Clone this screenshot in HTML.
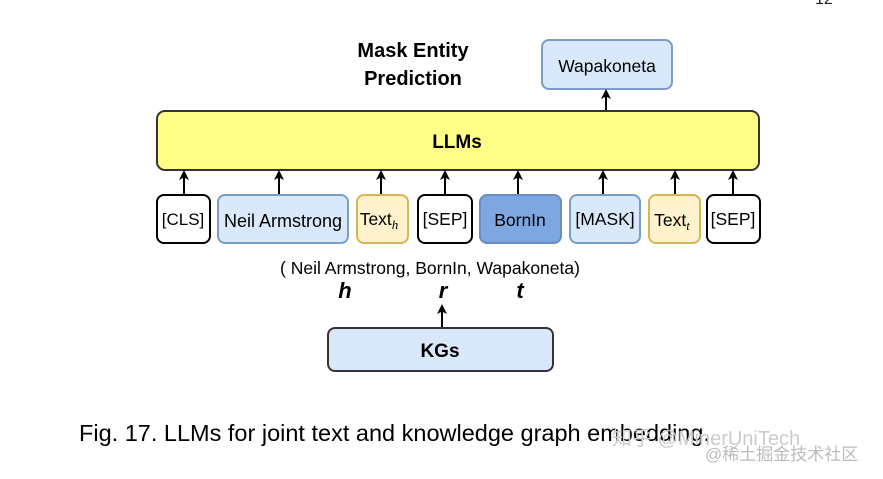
<!DOCTYPE html>
<html><head><meta charset="utf-8"><style>
html,body{margin:0;padding:0;background:#fff;}
svg{display:block;}
text{font-family:"Liberation Sans",Arial,sans-serif;}
</style></head><body>
<svg width="883" height="479" viewBox="0 0 883 479" xmlns="http://www.w3.org/2000/svg">
<defs>
<marker id="a" markerWidth="10" markerHeight="10" refX="5" refY="5" orient="auto" markerUnits="userSpaceOnUse">
<path d="M0,0 L10,5 L0,10 L2.5,5 Z" fill="#000"/>
</marker>
</defs>
<text x="815" y="4" font-size="16" fill="#222">12</text>
<text x="413" y="57" font-size="20" font-weight="bold" text-anchor="middle">Mask Entity</text>
<text x="413" y="85" font-size="20" font-weight="bold" text-anchor="middle">Prediction</text>
<rect x="542" y="40" width="130" height="49" rx="7" fill="#dae8fc" stroke="#7a9cc6" stroke-width="2"/>
<text x="607" y="72" font-size="17.5" text-anchor="middle">Wapakoneta</text>
<line x1="606" y1="111" x2="606" y2="94" stroke="#000" stroke-width="2" marker-end="url(#a)"/>
<rect x="157" y="111" width="602" height="59" rx="8" fill="#ffff88" stroke="#333" stroke-width="2"/>
<text x="457" y="148" font-size="19" font-weight="bold" text-anchor="middle">LLMs</text>
<g stroke="#000" stroke-width="2">
<line x1="184" y1="194" x2="184" y2="175" marker-end="url(#a)"/>
<line x1="279" y1="194" x2="279" y2="175" marker-end="url(#a)"/>
<line x1="381" y1="194" x2="381" y2="175" marker-end="url(#a)"/>
<line x1="445" y1="194" x2="445" y2="175" marker-end="url(#a)"/>
<line x1="518" y1="194" x2="518" y2="175" marker-end="url(#a)"/>
<line x1="603" y1="194" x2="603" y2="175" marker-end="url(#a)"/>
<line x1="675" y1="194" x2="675" y2="175" marker-end="url(#a)"/>
<line x1="733" y1="194" x2="733" y2="175" marker-end="url(#a)"/>
</g>
<rect x="157" y="195" width="53" height="48" rx="7" fill="#fff" stroke="#000" stroke-width="2"/>
<text x="183" y="225" font-size="17" text-anchor="middle">[CLS]</text>
<rect x="218" y="195" width="130" height="48" rx="7" fill="#dae8fc" stroke="#7a9cc6" stroke-width="2"/>
<text x="283" y="227" font-size="18" text-anchor="middle">Neil Armstrong</text>
<rect x="357" y="195" width="51" height="48" rx="7" fill="#fff2cc" stroke="#d6b656" stroke-width="2"/>
<text x="379" y="225" font-size="17.5" text-anchor="middle">Text<tspan font-family="Liberation Serif" font-style="italic" font-size="13" dy="4">h</tspan></text>
<rect x="418" y="195" width="54" height="48" rx="7" fill="#fff" stroke="#000" stroke-width="2"/>
<text x="445" y="225" font-size="17.5" text-anchor="middle">[SEP]</text>
<rect x="480" y="195" width="81" height="48" rx="7" fill="#7ea6e0" stroke="#6c8ebf" stroke-width="2"/>
<text x="520" y="226" font-size="17.5" text-anchor="middle">BornIn</text>
<rect x="570" y="195" width="70" height="48" rx="7" fill="#dae8fc" stroke="#7a9cc6" stroke-width="2"/>
<text x="605" y="225" font-size="17.5" text-anchor="middle">[MASK]</text>
<rect x="649" y="195" width="51" height="48" rx="7" fill="#fff2cc" stroke="#d6b656" stroke-width="2"/>
<text x="672" y="226" font-size="17.5" text-anchor="middle">Text<tspan font-family="Liberation Serif" font-style="italic" font-size="13" dy="4">t</tspan></text>
<rect x="707" y="195" width="53" height="48" rx="7" fill="#fff" stroke="#000" stroke-width="2"/>
<text x="733" y="225" font-size="17.5" text-anchor="middle">[SEP]</text>
<text x="430" y="274" font-size="17.5" text-anchor="middle">( Neil Armstrong, BornIn, Wapakoneta)</text>
<g font-family="Liberation Serif" font-style="italic" font-weight="bold" font-size="22" text-anchor="middle">
<text x="345" y="298" font-family="Liberation Serif">h</text>
<text x="443" y="298" font-family="Liberation Serif">r</text>
<text x="520" y="298" font-family="Liberation Serif">t</text>
</g>
<line x1="442" y1="328" x2="442" y2="309" stroke="#000" stroke-width="2" marker-end="url(#a)"/>
<rect x="328" y="328" width="225" height="43" rx="7" fill="#dae8fc" stroke="#333" stroke-width="2"/>
<text x="440" y="357" font-size="19" font-weight="bold" text-anchor="middle">KGs</text>
<text x="79" y="441" font-size="23.5">Fig. 17. LLMs for joint text and knowledge graph embedding.</text>
<text x="612" y="445" font-size="20" fill="#ccc" font-family="Liberation Sans,'Noto Sans CJK SC',sans-serif">知乎 @MinerUniTech</text>
<text x="705" y="460" font-size="17" fill="#bbb" font-family="Liberation Sans,'Noto Sans CJK SC',sans-serif">@稀土掘金技术社区</text>
</svg>
</body></html>
